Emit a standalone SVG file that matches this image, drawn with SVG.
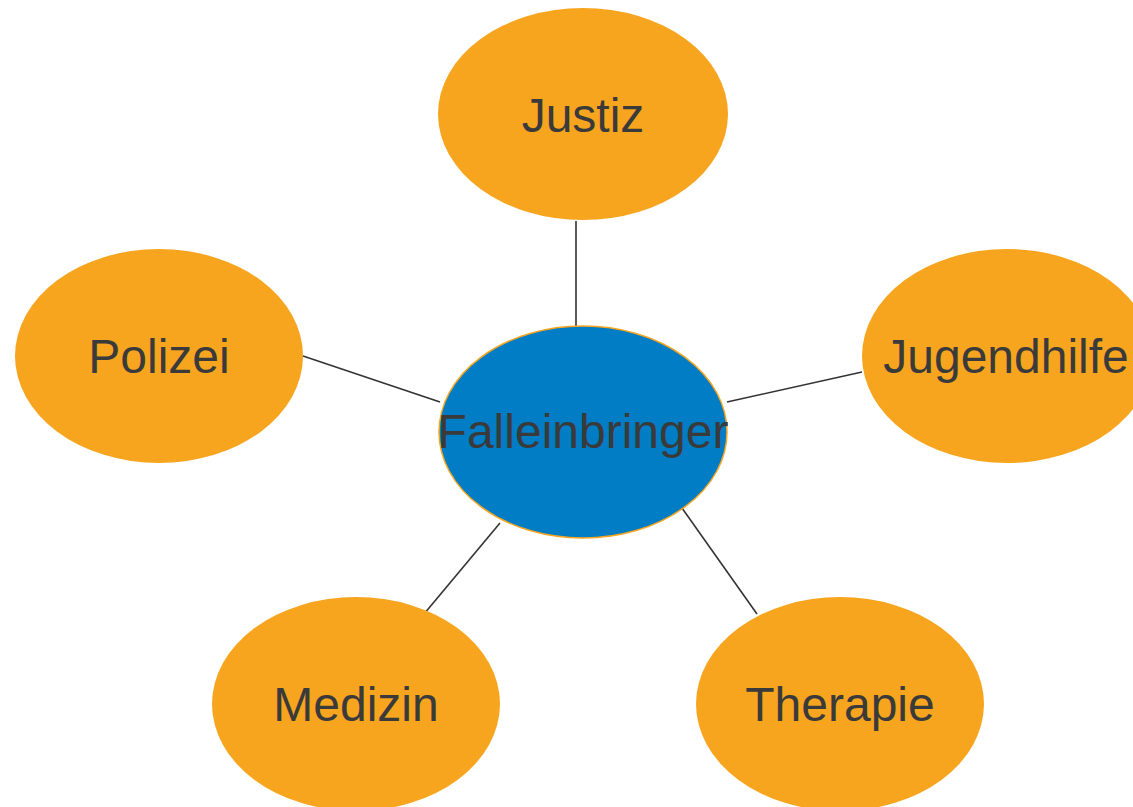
<svg xmlns="http://www.w3.org/2000/svg" width="1133" height="807" viewBox="0 0 1133 807">
  <style>
    .leaf { fill: #F7A51E; }
    .hub { fill: #007DC4; stroke: #F7A51E; stroke-width: 1.5; }
    .label { font-family: "Liberation Sans", Arial, sans-serif; font-size: 48px; fill: #3A3A3A; text-anchor: middle; }
    .link { stroke: #333333; stroke-width: 1.6; fill: none; }
  </style>
  <rect width="1133" height="807" fill="#FFFFFF"/>
  <g id="connectors">
    <line class="link" x1="576" y1="221" x2="576" y2="327"/>
    <line class="link" x1="303" y1="356" x2="440" y2="402"/>
    <line class="link" x1="862" y1="372" x2="727" y2="402"/>
    <line class="link" x1="500" y1="523" x2="424" y2="614"/>
    <line class="link" x1="682" y1="508" x2="757" y2="614"/>
  </g>
  <g id="justiz">
    <ellipse class="leaf" cx="583" cy="114" rx="145" ry="106"/>
    <text class="label" x="583" y="132">Justiz</text>
  </g>
  <g id="polizei">
    <ellipse class="leaf" cx="159" cy="356" rx="144" ry="107"/>
    <text class="label" x="159" y="373">Polizei</text>
  </g>
  <g id="jugendhilfe">
    <ellipse class="leaf" cx="1007" cy="356" rx="145" ry="107"/>
    <text class="label" x="1006" y="373">Jugendhilfe</text>
  </g>
  <g id="medizin">
    <ellipse class="leaf" cx="356" cy="704" rx="144" ry="107"/>
    <text class="label" x="356" y="721">Medizin</text>
  </g>
  <g id="therapie">
    <ellipse class="leaf" cx="840" cy="704" rx="144" ry="107"/>
    <text class="label" x="840" y="721">Therapie</text>
  </g>
  <g id="falleinbringer">
    <ellipse class="hub" cx="583" cy="432" rx="144" ry="106"/>
    <text class="label" x="583" y="448">Falleinbringer</text>
  </g>
</svg>
